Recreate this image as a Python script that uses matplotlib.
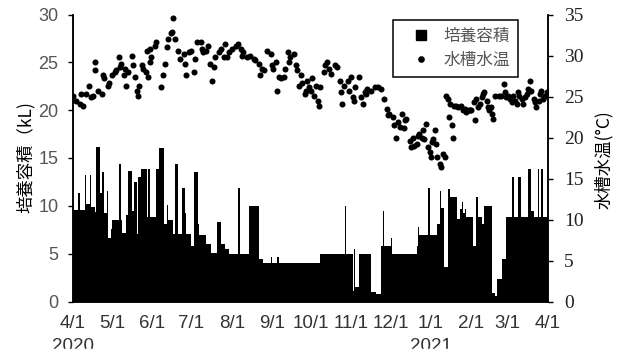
import numpy as np
import pandas as pd
import matplotlib
matplotlib.use("Agg")
import matplotlib.pyplot as plt
from matplotlib.lines import Line2D
from matplotlib.patches import Rectangle
import matplotlib.transforms as mtransforms

# day offsets are counted from 2020-04-01
START = "2020-04-01"
END = "2021-04-01"

# culture volume (kL): value holds from the start day until the next start day
vol_start = [0, 10, 14, 17, 18, 21, 22, 24, 26, 27, 29, 30, 35, 37, 38, 41, 42, 45, 47, 49,
             50, 52, 57, 58, 59, 64, 66, 70, 72, 73, 77, 78, 81, 84, 86, 87, 91, 93, 96, 97,
             102, 106, 111, 114, 116, 117, 120, 127, 128, 135, 143, 146, 190, 215, 216, 217, 220, 229, 233, 237,
             244, 245, 264, 265, 266, 280, 282, 283, 285, 288, 290, 295, 297, 299, 300, 301, 302, 307, 310, 311,
             314, 316, 322, 324, 326, 330, 333, 337, 339, 342, 344, 350, 352, 354, 357, 358, 360, 361]
vol_level = [9.6, 10.2, 9.9, 9.4, 16.1, 11.3, 13.5, 9.2, 11.6, 6.6, 7.6, 8.5, 14.4, 8.5, 7.2, 9.0, 13.6, 9.5, 12.5, 7.1,
             13.0, 13.8, 8.8, 13.8, 8.8, 13.9, 16.0, 8.1, 10.1, 8.5, 7.1, 14.4, 7.1, 11.9, 9.3, 7.1, 5.8, 13.5, 8.1, 6.9,
             6.0, 5.1, 8.3, 6.0, 6.0, 5.5, 5.0, 11.9, 5.0, 10.0, 4.4, 4.0, 5.0, 1.1, 5.5, 1.5, 5.0, 0.95, 0.8, 5.8,
             6.6, 5.0, 5.8, 7.75, 7.0, 8.1, 11.6, 9.8, 3.6, 11.8, 10.9, 8.6, 9.7, 10.4, 9.3, 9.7, 8.8, 5.8, 10.9, 8.8,
             8.1, 10.0, 0.9, 0.6, 2.3, 4.4, 8.8, 13.0, 8.8, 13.0, 8.8, 13.9, 9.5, 8.8, 13.9, 8.8, 13.9, 8.8]
# single days that stick out above the running level
spike_day = [4, 9, 13, 152, 157, 209, 238, 273]
spike_vol = [11.3, 13.2, 13.2, 4.7, 4.7, 10.0, 9.5, 11.9]

# tank water temperature (degC)
temp_day = [0, 2, 5, 8, 6, 10, 12, 14, 15, 17, 17, 19, 22, 23, 24, 27, 28, 30, 32, 33,
            35, 36, 37, 39, 40, 41, 42, 45, 46, 48, 49, 50, 51, 53, 54, 56, 58, 59, 60, 57,
            59, 63, 64, 68, 69, 71, 72, 73, 75, 76, 77, 78, 81, 82, 85, 86, 87, 89, 91, 93,
            94, 95, 98, 99, 100, 102, 104, 105, 107, 108, 109, 112, 114, 116, 118,
            117, 120, 122, 125, 127, 129, 130, 131, 134, 136, 139, 140, 143, 144, 145, 147, 149, 152, 153,
            154, 156, 157, 158, 160, 162, 163, 165, 166, 167, 170, 171, 172, 174, 175, 176, 178, 179, 180, 181,
            183, 184, 185, 187, 188, 189, 190, 193, 194, 195, 197, 198, 201, 203, 205, 206, 207, 208, 211, 212,
            214, 215, 216, 217, 220, 221, 223, 224, 225, 226, 229, 232, 234, 237, 239, 241, 242,
            243, 246, 247, 248, 250, 251, 253, 254, 255, 256, 259, 260, 261, 262, 264, 265, 266, 268, 269, 270,
            271, 273, 274, 275, 276, 277, 278, 279, 280, 282, 283, 284, 286, 287, 288, 289, 291, 292, 290, 293,
            294, 296, 298, 300, 301, 302, 304, 305, 306, 308, 309, 310, 311, 313, 314, 315, 316, 318, 319, 320,
            321, 322, 323, 324, 327, 329, 331, 332, 333, 334, 336, 337, 338, 340, 341, 342, 343, 345, 346, 347,
            349, 350, 351, 352, 354, 355, 356, 358, 359, 360, 361, 363, 364]
temp_c = [25.1, 24.5, 24.1, 23.9, 25.3, 25.3, 26.3, 24.9, 25.1, 28.2, 29.2, 25.7, 25.3, 27.6, 27.2, 26.3, 26.7, 27.6, 28.0, 28.2,
          29.8, 28.6, 29.0, 27.6, 28.4, 26.3, 28.0, 30.0, 28.8, 27.4, 25.7, 25.1, 26.3, 28.8, 28.4, 28.0, 27.4, 29.2, 29.8, 30.6,
          30.8, 31.2, 31.6, 26.1, 27.6, 29.0, 31.0, 32.0, 32.8, 32.9, 34.6, 32.0, 30.6, 29.6, 30.2, 29.0, 27.6, 30.4, 30.6, 28.0,
          29.6, 31.6, 31.6, 30.8, 30.4, 30.6, 31.2, 29.0, 26.9, 28.6, 29.8, 30.4, 30.8, 29.8, 29.8,
          31.4, 30.4, 30.8, 31.2, 31.4, 30.8, 30.0, 30.4, 29.8, 30.0, 29.6, 29.4, 29.0, 27.6, 28.4, 28.2, 30.6, 30.2, 28.8,
          28.4, 29.2, 25.7, 27.4, 27.2, 27.4, 28.4, 30.4, 29.2, 29.8, 30.2, 28.8, 28.2, 26.3, 27.6, 26.7, 25.3, 25.7, 26.9, 26.1,
          25.7, 27.2, 25.1, 26.3, 24.5, 23.9, 26.1, 28.0, 28.8, 29.2, 28.4, 27.7, 28.8, 28.6, 26.9, 25.5, 24.1, 26.3, 26.9, 25.7,
          27.4, 24.9, 24.5, 26.1, 27.4, 24.9, 24.1, 25.5, 25.3, 25.9, 25.7, 26.1, 26.1, 25.9, 24.7, 23.5, 22.7,
          22.9, 22.5, 21.5, 20.0, 21.9, 21.3, 22.9, 21.1, 22.1, 22.3, 19.6, 18.8, 20.0, 19.0, 19.2, 20.2, 20.4, 20.0, 20.9, 19.8,
          21.7, 18.8, 18.2, 17.6, 19.4, 19.8, 20.9, 19.2, 17.6, 16.8, 16.4, 18.0, 17.6, 25.1, 24.7, 22.5, 21.5, 20.0, 24.1, 23.9,
          23.9, 23.7, 23.9, 23.3, 23.5, 23.1, 23.3, 23.3, 23.3, 24.3, 22.1, 24.7, 23.7, 24.1, 24.9, 25.3, 25.5, 24.5, 23.7, 23.3,
          23.7, 22.9, 22.3, 25.1, 25.1, 25.1, 26.5, 25.5, 24.9, 25.1, 24.7, 24.3, 25.1, 24.5, 24.1, 25.5, 25.1, 24.7, 24.1, 24.9,
          25.3, 25.9, 26.9, 25.7, 24.7, 24.3, 23.7, 24.5, 25.3, 25.7, 24.7, 25.1, 25.5]

W, H = 626, 360
SANS = ["Liberation Sans", "DejaVu Sans"]
JP = ["Noto Sans CJK JP", "DejaVu Sans"]
SERIF = ["Liberation Serif", "DejaVu Serif"]

n_days = (pd.Timestamp(END) - pd.Timestamp(START)).days
daily = np.zeros(n_days)
bounds = list(vol_start) + [n_days]
for i, v in enumerate(vol_level):
    daily[bounds[i]:bounds[i + 1]] = v
for d, v in zip(spike_day, spike_vol):
    daily[d] = v

fig = plt.figure(figsize=(W / 100, H / 100), dpi=100)
l, r, b, t = 73, 548, 301.5, 14.5
ax = fig.add_axes([l / W, 1 - b / H, (r - l) / W, (b - t) / H])
ax2 = ax.twinx()

ax.bar(np.arange(n_days), daily, width=1.0, align="edge", color="black", linewidth=0)
ax2.scatter(temp_day, temp_c, s=19, color="black", linewidths=0, zorder=3)

ax.set_xlim(0, n_days)
ax.set_ylim(0, 30)
ax2.set_ylim(0, 35)
ax.set_yticks(range(0, 31, 5))
ax2.set_yticks(range(0, 36, 5))

months = pd.date_range(START, END, freq="MS")
ax.set_xticks((months - pd.Timestamp(START)).days)
ax.set_xticklabels([f"{m.month}/1" for m in months], family=SANS, fontsize=13.5, color="#333333")
ax.tick_params(axis="x", length=0, pad=10)
ax.tick_params(axis="y", direction="out", length=3.5, width=1, pad=7, labelsize=13, labelcolor="#555555")
for lab in ax.get_yticklabels():
    lab.set_family(SANS)
ax2.tick_params(axis="y", direction="out", length=3.5, width=1, pad=8, labelsize=14, labelcolor="#222222")
for lab in ax2.get_yticklabels():
    lab.set_family(SERIF)

for a in (ax, ax2):
    a.spines["top"].set_visible(False)
    for s in ("left", "right", "bottom"):
        a.spines[s].set_linewidth(1.1)

# year captions under the first month of each year, trimmed by the page edge
tr = mtransforms.blended_transform_factory(ax.transData, fig.transFigure)
ax.text(0, 1 - 338 / H, "2020", transform=tr, ha="center", va="top", family=SANS, fontsize=13.5, color="#333333")
ax.text(275, 1 - 338 / H, "2021", transform=tr, ha="center", va="top", family=SANS, fontsize=13.5, color="#333333")
fig.patches.append(Rectangle((0, 0), 1, 11 / H, transform=fig.transFigure, color="white", zorder=10))

fig.text(26 / W, 1 - 157 / H, "培養容積（kL)", rotation=90, ha="center", va="center", family=JP, fontsize=12.5)
fig.text(604 / W, 1 - 160 / H, "水槽水温(°C)", rotation=90, ha="center", va="center", family=JP, fontsize=12.5)

handles = [Line2D([], [], ls="none", marker="s", ms=7.5, color="black"),
           Line2D([], [], ls="none", marker="o", ms=3.8, color="black")]
leg = ax2.legend(handles, ["培養容積", "水槽水温"], loc="upper left",
                 bbox_to_anchor=(393 / W, 1 - 20 / H), bbox_transform=fig.transFigure,
                 prop={"family": JP, "size": 12}, labelcolor="#555555", frameon=True, fancybox=False,
                 edgecolor="black", framealpha=1, handlelength=2.4, handletextpad=0.2,
                 labelspacing=0.45, borderpad=0.45, borderaxespad=0)
leg.get_frame().set_linewidth(1.1)

fig.savefig("out.png", dpi=100)
